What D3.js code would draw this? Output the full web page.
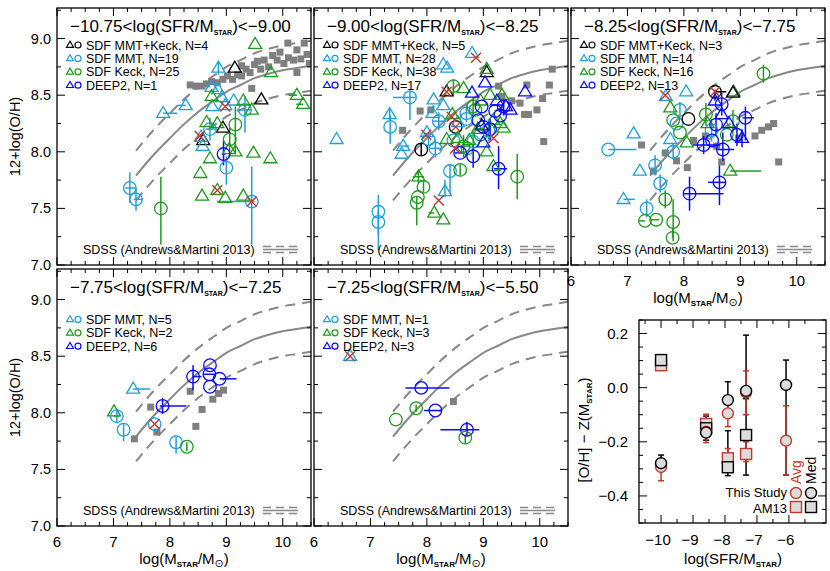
<!DOCTYPE html>
<html><head><meta charset="utf-8">
<script src="https://cdn.jsdelivr.net/npm/d3@7"></script>
<style>body{margin:0;background:#fff}svg{display:block}text{font-family:"Liberation Sans",Arial,sans-serif}</style>
</head><body><svg id="c" width="830" height="571"></svg>
<script>
// ---------- DATA ----------
const massTicks = [6, 7, 8, 9, 10];
const massTickLabels = ['6', '7', '8', '9', '10'];
const ohTicks = [7.0, 7.5, 8.0, 8.5, 9.0];
const ohTickLabels = ['7.0', '7.5', '8.0', '8.5', '9.0'];

// SDSS (Andrews & Martini 2013) relation and its envelope
const sdssX  = [7.4, 7.6, 7.8, 8.0, 8.2, 8.4, 8.6, 8.8, 9.0, 9.25, 9.5, 9.75, 10.0, 10.25, 10.5];
const sdssY  = [7.79, 7.91, 8.02, 8.12, 8.22, 8.31, 8.39, 8.46, 8.53, 8.59, 8.65, 8.69, 8.72, 8.74, 8.76];
const sdssHi = [8.01, 8.13, 8.24, 8.34, 8.44, 8.53, 8.61, 8.68, 8.75, 8.81, 8.87, 8.91, 8.94, 8.96, 8.98];
const sdssLo = [7.57, 7.69, 7.80, 7.90, 8.00, 8.09, 8.17, 8.24, 8.31, 8.37, 8.43, 8.47, 8.50, 8.52, 8.54];

const groupColors = {k: '#000000', c: '#1fa0da', g: '#1f9a1f', d: '#0a0aff'};

const titles = [
  ['−10.75<log(SFR/M', ')<−9.00'],
  ['−9.00<log(SFR/M', ')<−8.25'],
  ['−8.25<log(SFR/M', ')<−7.75'],
  ['−7.75<log(SFR/M', ')<−7.25'],
  ['−7.25<log(SFR/M', ')<−5.50']
];
const legend1 = [['k', 'SDF MMT+Keck, N=4'], ['c', 'SDF MMT, N=19'], ['g', 'SDF Keck, N=25'], ['d', 'DEEP2, N=1']];
const legend2 = [['k', 'SDF MMT+Keck, N=5'], ['c', 'SDF MMT, N=28'], ['g', 'SDF Keck, N=38'], ['d', 'DEEP2, N=17']];
const legend3 = [['k', 'SDF MMT+Keck, N=3'], ['c', 'SDF MMT, N=14'], ['g', 'SDF Keck, N=16'], ['d', 'DEEP2, N=13']];
const legend4 = [null, ['c', 'SDF MMT, N=5'], ['g', 'SDF Keck, N=2'], ['d', 'DEEP2, N=6']];
const legend5 = [null, ['c', 'SDF MMT, N=1'], ['g', 'SDF Keck, N=3'], ['d', 'DEEP2, N=3']];

// SDSS binned points (gray squares) per panel: [logM, O/H]
const sq1 = [[8.36,8.59],[8.46,8.58],[8.57,8.58],[8.65,8.60],[8.74,8.62],[8.84,8.61],[8.94,8.64],[9.02,8.67],[9.11,8.64],[9.20,8.68],[9.27,8.67],[9.27,8.76],[9.35,8.73],[9.42,8.70],[9.50,8.77],[9.55,8.80],[9.61,8.73],[9.67,8.81],[9.75,8.75],[9.82,8.85],[9.90,8.81],[9.95,8.88],[10.02,8.78],[10.10,8.83],[10.09,8.96],[10.19,8.81],[10.25,8.90],[10.25,8.70],[10.32,8.82],[10.38,8.96],[10.43,8.86],[10.47,8.78],[9.45,8.56]];
const sq2 = [[7.57,8.19],[7.88,8.36],[8.07,8.37],[9.27,8.58],[9.33,8.49],[9.50,8.45],[9.65,8.43],[9.73,8.33],[9.80,8.33],[9.77,8.59],[9.95,8.37],[10.05,8.47],[10.07,8.09],[10.17,8.59],[10.22,8.73]];
const sq3 = [[7.25,8.06],[7.46,7.83],[7.67,7.99],[7.87,7.92],[8.06,7.86],[8.17,8.10],[8.38,8.14],[8.58,8.05],[8.67,7.91],[8.97,8.12],[9.26,8.14],[9.38,8.19],[9.50,8.22],[9.59,8.25],[9.68,7.91]];
const sq4 = [[7.37,7.77],[7.66,8.05],[7.77,7.83],[8.36,8.19],[8.46,7.88],[8.57,8.03],[8.76,8.12],[8.86,8.17],[8.95,8.20]];
const sq5 = [[8.47,8.10]];

// Galaxies: [group, shape, logM, O/H, xErrLo, xErrHi, yErrLo, yErrHi]
const pts1 = [
 ['k','t',9.15,8.74],['k','t',9.62,8.46],['k','t',8.94,8.21],['k','t',8.59,8.10],
 ['c','t',7.88,8.34,0,0.25,0,0],['c','t',8.28,8.41,0.15,0,0,0],['c','t',8.86,8.74,0,0,0.06,0.06],
 ['c','t',8.74,8.57],['c','t',8.85,8.55],['c','t',8.75,8.40],['c','t',8.92,8.48],['c','t',9.13,8.45],
 ['c','t',8.98,8.41],['c','t',8.55,8.13],['c','t',8.58,8.05],
 ['c','c',8.71,8.20,0.08,0.1,0.1,0.1],['c','c',9.33,8.37,0.15,0.12,0.2,0.12],['c','c',9.00,7.86,0,0,0.15,0.1],
 ['c','c',9.45,7.56,0.62,0.05,0.38,0.31],['c','c',7.29,7.68,0.08,0.1,0.13,0.14],['c','c',7.40,7.58,0.04,0.12,0.1,0.1],
 ['g','t',9.51,8.95],['g','t',9.79,8.70],['g','t',10.25,8.50,0.15,0,0,0],['g','t',10.36,8.42,0.12,0,0,0],
 ['g','t',8.74,8.49],['g','t',9.30,8.45],['g','t',9.45,8.37],['g','t',8.84,8.25],['g','t',8.65,8.26],
 ['g','t',9.16,8.00],['g','t',9.48,7.99],['g','t',9.78,7.94],['g','t',8.71,7.94],['g','t',8.54,7.81],
 ['g','t',8.57,7.61],['g','t',8.98,7.59],['g','t',9.30,7.61],['g','t',8.84,7.66],['g','t',9.05,8.02],
 ['g','c',9.16,8.24,0,0,0.25,0.16],['g','c',9.06,8.11,0,0,0.12,0.1],['g','c',7.84,7.50,0,0,0.32,0.28],
 ['d','c',8.95,7.98,0.03,0.03,0.1,0.12]
];
const cross1 = [[8.98,8.40],[8.53,8.14],[8.84,7.66],[9.45,7.56]];

const pts2 = [
 ['k','t',9.06,8.70],['k','c',8.51,8.22],['k','c',7.90,8.02,0,0,0.05,0.05],['k','t',8.35,8.53],['k','t',8.97,8.23],
 ['c','t',6.40,8.11],['c','t',7.34,8.33,0,0,0.05,0.05],['c','c',7.35,8.22,0,0,0.15,0.1],['c','c',7.70,8.48,0.3,0.1,0.2,0.06],
 ['c','c',7.14,7.47,0,0,0.2,0.15],['c','c',7.14,7.38,0,0,0.25,0.1],['c','t',8.29,8.77],['c','t',8.36,8.74],
 ['c','t',8.12,8.46],['c','t',8.29,8.41],['c','t',7.58,8.05,0.05,0.1,0,0],['c','t',7.55,7.98],
 ['c','c',8.21,8.27,0.1,0.1,0.08,0.08],['c','c',8.15,8.03,0.1,0.1,0.08,0.08],['c','c',8.41,7.83,0,0,0.2,0.05],
 ['c','t',8.32,7.65,0,0,0.05,0.1],['c','c',8.70,8.34,0,0,0.08,0.08],['c','c',8.70,8.29],['c','c',8.82,8.09,0,0,0.1,0.1],
 ['c','t',8.80,8.87],['c','c',9.09,8.19,0,0,0.1,0.1],['c','c',8.03,8.11,0,0,0.06,0.06],['c','t',8.00,8.17],
 ['c','c',8.47,8.10],['c','t',8.55,8.26],['c','t',8.10,8.34],
 ['g','c',8.47,8.58,0,0,0.08,0.06],['g','t',9.06,8.73],['g','t',8.65,8.56],['g','t',9.33,8.50],['g','t',9.12,8.50],
 ['g','t',8.95,8.45],['g','c',8.82,8.40,0,0,0.1,0.08],['g','c',8.86,8.37],['g','t',9.30,8.25],['g','t',8.35,8.11],
 ['g','t',8.55,8.12],['g','c',8.65,8.05,0.1,0.1,0.1,0.1],['g','c',8.72,8.03],['g','c',8.59,7.84,0,0,0.05,0.05],
 ['g','t',9.18,7.87],['g','t',9.06,8.00],['g','t',9.36,8.21],['g','c',9.60,7.78,0,0,0.2,0.2],
 ['g','t',7.85,7.78,0.1,0.1,0.05,0.05],['g','c',7.94,7.69,0,0,0.05,0.05],['g','c',7.82,7.55,0,0,0.2,0.05],
 ['g','c',7.84,7.60],['g','t',8.13,7.46,0.1,0,0,0],['g','t',8.29,7.40],['g','t',8.75,8.10],['g','c',8.95,8.15],
 ['g','t',9.18,8.28],['g','t',8.45,8.33],['g','t',8.90,8.20],
 ['d','t',9.03,8.61],['d','t',9.74,8.53],['d','t',8.80,8.52],['d','c',9.36,8.40,0,0,0.08,0.06],['d','c',9.21,8.36],
 ['d','c',9.30,8.32],['d','t',9.48,8.37],['d','c',9.12,8.20,0,0,0.1,0.1],['d','c',8.82,7.96,0,0,0.1,0.1],
 ['d','c',8.59,7.99,0.1,0.05,0,0],['d','c',9.27,7.85,0.08,0.15,0.18,0.2],['d','c',9.00,8.22],['d','t',9.00,8.08],
 ['d','c',8.91,8.28],['d','t',9.24,8.45],['d','c',8.97,8.40],['d','t',9.40,8.40]
];
const cross2 = [[8.87,8.83],[8.35,8.53],[8.51,8.22],[7.99,8.15],[8.44,8.31],[8.50,8.03],[9.18,8.12],[8.21,7.57]];

const pts3 = [
 ['c','c',6.66,8.02,0,0.5,0,0],['c','t',7.11,8.16],['c','t',8.04,8.53],['c','c',7.93,8.37,0,0,0.07,0.07],
 ['c','c',7.87,8.25],['c','t',7.76,8.11],['c','c',7.81,8.00,0,0,0.07,0.07],['c','c',7.49,7.88,0,0,0.09,0.09],
 ['c','t',7.22,7.83],['c','c',7.58,7.72,0,0,0.08,0.08],['c','t',6.93,7.58,0,0.2,0,0],['c','c',7.34,7.50,0,0,0.08,0.08],
 ['c','c',8.49,8.19,0,0,0.1,0.1],['c','t',7.68,8.49],
 ['g','c',9.41,8.69,0,0,0.08,0.08],['g','t',8.88,8.53],['g','t',7.76,8.39],['g','c',7.81,8.28],['g','c',7.93,8.17],
 ['g','t',8.05,8.08],['g','c',8.39,8.33,0,0,0.1,0.1],['g','c',8.87,8.27,0,0,0.1,0.1],['g','c',8.76,8.15],
 ['g','t',8.82,7.83,0,0.55,0,0],['g','c',7.67,7.58,0,0,0.08,0.08],['g','c',7.31,7.39,0.1,0,0,0],
 ['g','c',7.51,7.40,0.1,0.05,0,0],['g','c',7.81,7.38,0,0,0.17,0.2],['g','c',7.80,7.24,0,0,0,0.08],['g','t',8.42,8.25],
 ['d','c',8.67,8.42,0,0,0.1,0.1],['d','t',8.55,8.45,0,0,0,0.1],['d','t',8.67,8.33],['d','c',9.09,8.30,0.05,0.15,0.2,0.1],
 ['d','c',8.57,8.24,0,0,0.1,0.1],['d','t',9.03,8.12,0,0,0.08,0.08],['d','c',8.35,8.06,0.2,0.3,0.08,0.08],
 ['d','c',8.69,8.02,0.1,0.2,0.1,0.15],['d','c',8.94,8.15,0,0,0.1,0.1],['d','c',8.63,7.73,0.2,0.1,0.2,0.15],
 ['d','c',8.10,7.63,0.1,0.6,0.15,0.15],['d','t',8.80,8.25],['d','c',8.50,8.10],
 ['k','c',8.08,8.29],['k','c',8.55,8.53,0,0.2,0,0],['k','t',8.87,8.52]
];
const cross3 = [[7.67,8.50],[8.55,8.53]];

const pts4 = [
 ['c','t',7.35,8.21,0,0.3,0,0],['g','t',7.01,8.01],['c','c',7.06,7.97,0.05,0.05,0.06,0.06],
 ['c','c',7.18,7.85,0,0,0.1,0.05],['c','c',7.73,7.90],['d','c',7.87,8.06,0.05,0.42,0.07,0.07],
 ['c','c',8.11,7.74,0,0,0.1,0.05],['g','c',8.30,7.70,0,0,0.04,0.04],['d','c',8.41,8.32,0,0.15,0.12,0.1],
 ['d','c',8.71,8.42],['d','c',8.70,8.34,0.1,0.1,0,0],['d','c',8.88,8.30,0,0.3,0,0],['d','c',8.71,8.23]
];
const cross4 = [[7.73,7.90]];

const pts5 = [
 ['c','t',6.64,8.50],['d','c',7.90,8.22,0.28,0.5,0,0],['g','c',7.81,8.04,0,0,0.03,0.03],
 ['d','c',8.15,8.02,0.2,0.1,0,0],['g','c',7.45,7.94],['d','c',8.71,7.85,0.47,0.22,0.05,0.07],
 ['g','c',8.68,7.78,0,0,0.05,0.03]
];
const cross5 = [[6.64,8.50]];

// Offset panel: [O/H] - Z(M*) vs log(SFR/M*)
const sfrTicks = [-10, -9, -8, -7, -6];
const sfrTickLabels = ['−10', '−9', '−8', '−7', '−6'];
const dzTicks = [-0.4, -0.2, 0.0, 0.2];
const dzTickLabels = ['−0.4', '−0.2', '0.0', '0.2'];
const binSfr     = [-10.0, -8.59, -7.91, -7.34, -6.09];
const avgStudy   = [-0.293, -0.163, -0.095, -0.017, -0.196];
const avgStudyLo = [-0.344, -0.203, -0.144, -0.100, -0.323];
const avgStudyHi = [-0.293, -0.098, -0.060, 0.062, -0.067];
const medStudy   = [-0.279, -0.166, -0.046, -0.012, 0.010];
const medStudyLo = [-0.279, -0.194, -0.094, -0.040, -0.323];
const medStudyHi = [-0.249, -0.105, 0.022, 0.194, 0.102];
const avgAM13    = [0.083, -0.134, -0.261, -0.245, null];
const avgAM13Lo  = [0.083, -0.134, -0.300, -0.273, null];
const avgAM13Hi  = [0.083, -0.134, -0.225, -0.200, null];
const medAM13    = [0.102, -0.150, -0.294, -0.175, null];
const medAM13Lo  = [0.102, -0.150, -0.325, -0.323, null];
const medAM13Hi  = [0.102, -0.150, -0.159, -0.040, null];

// ---------- DRAWING ----------
const svg = d3.select('#c');
const PW = 254, PH = 257;
const frames = [{x:57,y:8},{x:314,y:8},{x:571,y:8},{x:57,y:269},{x:314,y:269}];
const panels = [
  {sq:sq1, pts:pts1, cr:cross1, leg:legend1},
  {sq:sq2, pts:pts2, cr:cross2, leg:legend2},
  {sq:sq3, pts:pts3, cr:cross3, leg:legend3},
  {sq:sq4, pts:pts4, cr:cross4, leg:legend4},
  {sq:sq5, pts:pts5, cr:cross5, leg:legend5}
];
const GRAY = '#888888';
const RED = '#c0392b';

function subText(g, x, y, parts, fs, sfs, anchor) {
  const t = g.append('text').attr('x', x).attr('y', y).attr('font-size', fs).attr('fill', '#000');
  if (anchor) t.attr('text-anchor', anchor);
  let prevSub = false;
  parts.forEach(p => {
    const ts = t.append('tspan').text(p[0]);
    if (p[1] === 1) { ts.attr('font-size', sfs).attr('font-weight', 'bold').attr('dy', 2.5); prevSub = true; }
    else if (p[1] === 2) { ts.attr('font-size', sfs + 3).attr('font-family', 'DejaVu Sans').attr('dy', 2.5); prevSub = true; }
    else { if (prevSub) ts.attr('dy', -2.5); prevSub = false; }
  });
  return t;
}
function triPath(cx, cy, w, h) {
  return `M${cx},${cy - h * 0.62}L${cx - w / 2},${cy + h * 0.38}L${cx + w / 2},${cy + h * 0.38}Z`;
}
function ticks(g, x, y, xMaj, xMin, yMaj, yMin, L, l) {
  const [x0, x1] = x.range(), [y0, y1] = y.range();
  const tk = g.append('g').attr('stroke', '#000').attr('stroke-width', 1);
  xMaj.forEach(v => { const p = x(v); tk.append('line').attr('x1', p).attr('x2', p).attr('y1', y0).attr('y2', y0 - L); tk.append('line').attr('x1', p).attr('x2', p).attr('y1', y1).attr('y2', y1 + L); });
  xMin.forEach(v => { const p = x(v); tk.append('line').attr('x1', p).attr('x2', p).attr('y1', y0).attr('y2', y0 - l); tk.append('line').attr('x1', p).attr('x2', p).attr('y1', y1).attr('y2', y1 + l); });
  yMaj.forEach(v => { const p = y(v); tk.append('line').attr('y1', p).attr('y2', p).attr('x1', x0).attr('x2', x0 + L); tk.append('line').attr('y1', p).attr('y2', p).attr('x1', x1).attr('x2', x1 - L); });
  yMin.forEach(v => { const p = y(v); tk.append('line').attr('y1', p).attr('y2', p).attr('x1', x0).attr('x2', x0 + l); tk.append('line').attr('y1', p).attr('y2', p).attr('x1', x1).attr('x2', x1 - l); });
  g.append('rect').attr('x', x0).attr('y', y1).attr('width', x1 - x0).attr('height', y0 - y1)
    .attr('fill', 'none').attr('stroke', '#000').attr('stroke-width', 1.3);
}

const massMinor = d3.range(6, 10.51, 0.25).filter(v => Math.abs(v - Math.round(v)) > 1e-6);
const ohMinor = [7.25, 7.75, 8.25, 8.75, 9.25];
const sdss = sdssX.map((v, i) => ({x: v, m: sdssY[i], hi: sdssHi[i], lo: sdssLo[i]}));

panels.forEach((P, i) => {
  const f = frames[i];
  const x = d3.scaleLinear().domain([6, 10.5]).range([f.x, f.x + PW]);
  const y = d3.scaleLinear().domain([7, 9.27]).range([f.y + PH, f.y]);
  const g = svg.append('g');
  const cid = 'clip' + i;
  svg.append('clipPath').attr('id', cid).append('rect').attr('x', f.x).attr('y', f.y).attr('width', PW).attr('height', PH);
  const pg = g.append('g').attr('clip-path', `url(#${cid})`);

  const line = k => d3.line().x(d => x(d.x)).y(d => y(d[k])).curve(d3.curveMonotoneX);
  pg.append('path').datum(sdss).attr('d', line('m')).attr('fill', 'none').attr('stroke', GRAY).attr('stroke-width', 2);
  ['hi', 'lo'].forEach(k => pg.append('path').datum(sdss).attr('d', line(k)).attr('fill', 'none')
    .attr('stroke', GRAY).attr('stroke-width', 2).attr('stroke-dasharray', '10,7'));

  pg.selectAll('rect.sq').data(P.sq).join('rect').attr('class', 'sq')
    .attr('x', d => x(d[0]) - 3.5).attr('y', d => y(d[1]) - 3.5).attr('width', 7).attr('height', 7).attr('fill', '#7f7f7f');

  P.pts.forEach(d => {
    const [gr, sh, vx, vy, xl = 0, xh = 0, yl = 0, yh = 0] = d;
    const c = groupColors[gr];
    if (xl || xh) pg.append('line').attr('x1', x(vx - xl)).attr('x2', x(vx + xh)).attr('y1', y(vy)).attr('y2', y(vy))
      .attr('stroke', c).attr('stroke-width', 1.5);
    if (yl || yh) pg.append('line').attr('x1', x(vx)).attr('x2', x(vx)).attr('y1', y(vy - yl)).attr('y2', y(vy + yh))
      .attr('stroke', c).attr('stroke-width', 1.5);
  });
  P.pts.forEach(d => {
    const [gr, sh, vx, vy] = d;
    const c = groupColors[gr];
    if (sh === 't') pg.append('path').attr('d', triPath(x(vx), y(vy), 13, 11)).attr('fill', 'none').attr('stroke', c).attr('stroke-width', 1.3);
    else pg.append('circle').attr('cx', x(vx)).attr('cy', y(vy)).attr('r', 6.3).attr('fill', 'none').attr('stroke', c).attr('stroke-width', 1.3);
  });
  P.cr.forEach(d => {
    const cx = x(d[0]), cy = y(d[1]), s = 5;
    pg.append('path').attr('d', `M${cx - s},${cy - s}L${cx + s},${cy + s}M${cx - s},${cy + s}L${cx + s},${cy - s}`)
      .attr('stroke', RED).attr('stroke-width', 1.4).attr('fill', 'none');
  });

  ticks(g, x, y, massTicks, massMinor, ohTicks, ohMinor, 8, 4);

  subText(g, f.x + 13, f.y + 24, [[titles[i][0], 0], ['STAR', 1], [titles[i][1], 0]], 17, 7);

  P.leg.forEach((e, r) => {
    if (!e) return;
    const cy = f.y + 37 + r * 13.4;
    const c = groupColors[e[0]];
    g.append('path').attr('d', triPath(f.x + 13, cy, 7, 6)).attr('fill', 'none').attr('stroke', c).attr('stroke-width', 1.2);
    g.append('circle').attr('cx', f.x + 21).attr('cy', cy).attr('r', 3).attr('fill', 'none').attr('stroke', c).attr('stroke-width', 1.2);
    g.append('text').attr('x', f.x + 29).attr('y', cy + 4.5).attr('font-size', 12.5).text(e[1]);
  });

  g.append('text').attr('x', f.x + 26).attr('y', f.y + 246).attr('font-size', 12.5).text('SDSS (Andrews&Martini 2013)');
  const lx0 = f.x + 206, lx1 = f.x + 241, ly = f.y + 241.5;
  g.append('line').attr('x1', lx0).attr('x2', lx1).attr('y1', ly - 3).attr('y2', ly - 3).attr('stroke', GRAY).attr('stroke-width', 1.5).attr('stroke-dasharray', '8,5');
  g.append('line').attr('x1', lx0).attr('x2', lx1).attr('y1', ly).attr('y2', ly).attr('stroke', GRAY).attr('stroke-width', 1.5);
  g.append('line').attr('x1', lx0).attr('x2', lx1).attr('y1', ly + 3).attr('y2', ly + 3).attr('stroke', GRAY).attr('stroke-width', 1.5).attr('stroke-dasharray', '8,5');

  if (i === 0 || i === 3) {
    ohTicks.forEach((v, k) => g.append('text').attr('x', f.x - 6).attr('y', y(v) + 5).attr('text-anchor', 'end')
      .attr('font-size', 14.5).text(ohTickLabels[k]));
    g.append('text').attr('transform', `translate(20,${f.y + PH / 2}) rotate(-90)`).attr('text-anchor', 'middle')
      .attr('font-size', 14.5).text('12+log(O/H)');
  }
  if (i >= 2) {
    massTicks.forEach((v, k) => g.append('text').attr('x', x(v)).attr('y', f.y + PH + 21).attr('text-anchor', 'middle')
      .attr('font-size', 15).text(massTickLabels[k]));
    subText(g, f.x + PW / 2, f.y + PH + 38, [['log(M', 0], ['STAR', 1], ['/M', 0], ['⊙', 2], [')', 0]], 15, 8, 'middle');
  }
});

// ---------- offset panel ----------
(function () {
  const x = d3.scaleLinear().domain([-10.69, -4.84]).range([639, 826]);
  const y = d3.scaleLinear().domain([-0.5, 0.25]).range([523, 320]);
  const g = svg.append('g');
  const sfrMinor = d3.range(-10.5, -4.9, 0.5).filter(v => Math.abs(v - Math.round(v)) > 1e-6);
  const dzMinor = d3.range(-0.5, 0.26, 0.05).filter(v => !dzTicks.some(t => Math.abs(t - v) < 1e-6));
  const GREYF = '#dcdcdc';
  const cap = 3;
  function ebar(col, xv, lo, hi) {
    if (lo === null || Math.abs(hi - lo) < 1e-9) return;
    const px = x(xv);
    g.append('line').attr('x1', px).attr('x2', px).attr('y1', y(lo)).attr('y2', y(hi)).attr('stroke', col).attr('stroke-width', 1.5);
    [lo, hi].forEach(v => g.append('line').attr('x1', px - cap).attr('x2', px + cap).attr('y1', y(v)).attr('y2', y(v)).attr('stroke', col).attr('stroke-width', 1.5));
  }
  binSfr.forEach((v, i) => {
    ebar('#000', v, medStudyLo[i], medStudyHi[i]);
    if (medAM13[i] !== null) ebar('#000', v, medAM13Lo[i], medAM13Hi[i]);
  });
  binSfr.forEach((v, i) => {
    ebar(RED, v, avgStudyLo[i], avgStudyHi[i]);
    if (avgAM13[i] !== null) ebar(RED, v, avgAM13Lo[i], avgAM13Hi[i]);
  });
  const sqm = (col, xv, yv) => g.append('rect').attr('x', x(xv) - 5.5).attr('y', y(yv) - 5.5).attr('width', 11).attr('height', 11)
    .attr('fill', GREYF).attr('stroke', col).attr('stroke-width', 1.4);
  const cim = (col, xv, yv) => g.append('circle').attr('cx', x(xv)).attr('cy', y(yv)).attr('r', 5.5)
    .attr('fill', GREYF).attr('stroke', col).attr('stroke-width', 1.4);
  binSfr.forEach((v, i) => { if (avgAM13[i] !== null) sqm(RED, v, avgAM13[i]); });
  binSfr.forEach((v, i) => { if (medAM13[i] !== null) sqm('#000', v, medAM13[i]); });
  binSfr.forEach((v, i) => cim(RED, v, avgStudy[i]));
  binSfr.forEach((v, i) => cim('#000', v, medStudy[i]));

  ticks(g, x, y, sfrTicks, sfrMinor, dzTicks, dzMinor, 8, 4);

  sfrTicks.forEach((v, k) => g.append('text').attr('x', x(v) - 3).attr('y', 545).attr('text-anchor', 'middle')
    .attr('font-size', 15).text(sfrTickLabels[k]));
  dzTicks.forEach((v, k) => g.append('text').attr('x', 628).attr('y', y(v) + 5).attr('text-anchor', 'end')
    .attr('font-size', 15).text(dzTickLabels[k]));
  subText(g, 733, 564, [['log(SFR/M', 0], ['STAR', 1], [')', 0]], 15, 8, 'middle');
  const yt = g.append('g').attr('transform', 'translate(589,430) rotate(-90)');
  subText(yt, 0, 0, [['[O/H] − Z(M', 0], ['STAR', 1], [')', 0]], 15, 8, 'middle');

  g.append('text').attr('x', 787).attr('y', 497).attr('text-anchor', 'end').attr('font-size', 13).text('This Study');
  g.append('text').attr('x', 787).attr('y', 512.5).attr('text-anchor', 'end').attr('font-size', 13).text('AM13');
  g.append('circle').attr('cx', 796).attr('cy', 493).attr('r', 5.5).attr('fill', GREYF).attr('stroke', RED).attr('stroke-width', 1.4);
  g.append('circle').attr('cx', 811).attr('cy', 493).attr('r', 5.5).attr('fill', GREYF).attr('stroke', '#000').attr('stroke-width', 1.4);
  g.append('rect').attr('x', 790.5).attr('y', 501.5).attr('width', 11).attr('height', 11).attr('fill', GREYF).attr('stroke', RED).attr('stroke-width', 1.4);
  g.append('rect').attr('x', 805.5).attr('y', 501.5).attr('width', 11).attr('height', 11).attr('fill', GREYF).attr('stroke', '#000').attr('stroke-width', 1.4);
  g.append('text').attr('transform', 'translate(801,484) rotate(-90)').attr('font-size', 14).attr('fill', RED).text('Avg');
  g.append('text').attr('transform', 'translate(816,484) rotate(-90)').attr('font-size', 14).attr('fill', '#000').text('Med');
})();
</script></body></html>
